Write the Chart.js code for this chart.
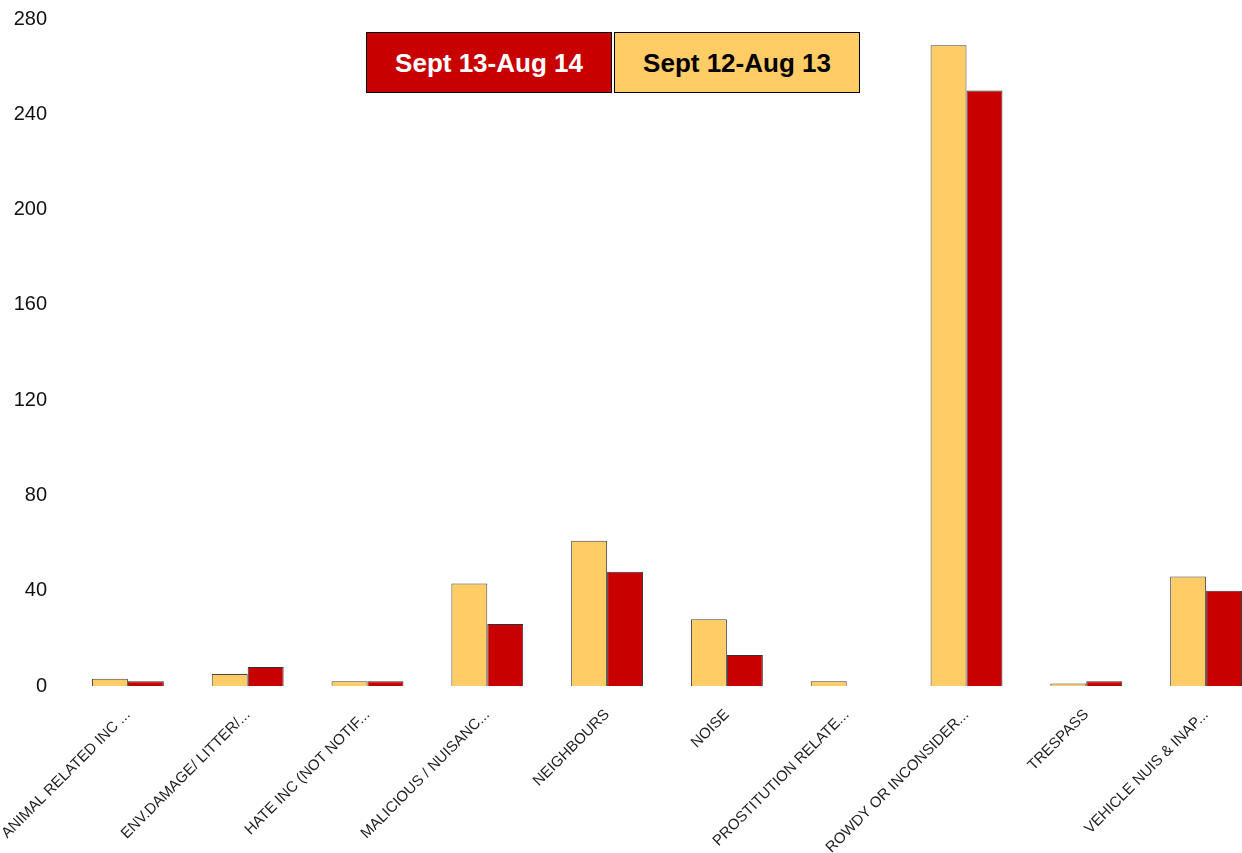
<!DOCTYPE html>
<html>
<head>
<meta charset="utf-8">
<script src="https://cdn.jsdelivr.net/npm/chart.js@4.4.0/dist/chart.umd.min.js"></script>
<style>
  html, body { margin: 0; padding: 0; background: #fff; overflow: hidden; width: 1242px; height: 853px; }
  #wrap { position: absolute; left: 0; top: -14px; width: 1266px; height: 867px; }
  .lg { position: absolute; top: 32px; width: 244px; border: 1px solid #000;
        font: bold 26px "Liberation Sans", Arial, sans-serif; display: flex; align-items: center; justify-content: center; padding-top: 2px; box-sizing: content-box; }
</style>
</head>
<body>
<div id="wrap"><canvas id="c" width="1266" height="867"></canvas></div>
<div id="lg1" class="lg" style="left:366px;background:#c80000;color:#fff;height:57px;"></div>
<div id="lg2" class="lg" style="left:614px;background:#ffcc66;color:#000;height:57px;"></div>
<script>
const categories = [
  "ANIMAL RELATED INC ...",
  "ENV.DAMAGE/ LITTER/...",
  "HATE INC (NOT NOTIF...",
  "MALICIOUS / NUISANC...",
  "NEIGHBOURS",
  "NOISE",
  "PROSTITUTION RELATE...",
  "ROWDY OR INCONSIDER...",
  "TRESPASS",
  "VEHICLE NUIS & INAP..."
];
const seriesNames = ["Sept 12-Aug 13", "Sept 13-Aug 14"];
const sept12Aug13 = [3, 5, 2, 43, 61, 28, 2, 269, 1, 46];
const sept13Aug14 = [2, 8, 2, 26, 48, 13, 0, 250, 2, 40];
const yTicks = [0, 40, 80, 120, 160, 200, 240, 280];

document.getElementById('lg1').textContent = seriesNames[1];
document.getElementById('lg2').textContent = seriesNames[0];

new Chart(document.getElementById('c'), {
  type: 'bar',
  data: {
    labels: categories,
    datasets: [
      { label: seriesNames[0], data: sept12Aug13, backgroundColor: '#ffcc66', borderColor: '#444', borderWidth: 1 },
      { label: seriesNames[1], data: sept13Aug14, backgroundColor: '#c80000', borderColor: '#333', borderWidth: 1 }
    ]
  },
  options: {
    responsive: false,
    animation: false,
    devicePixelRatio: 1,
    layout: { padding: { top: 4, left: 0, right: 0, bottom: 0 } },
    datasets: { bar: { barPercentage: 1.0, categoryPercentage: 0.6 } },
    plugins: { legend: { display: false }, tooltip: { enabled: false } },
    scales: {
      x: {
        grid: { display: false, drawTicks: false },
        border: { display: false },
        ticks: {
          autoSkip: false, minRotation: 45, maxRotation: 45, padding: 20,
          color: '#222', font: { family: '"Liberation Sans", Arial, sans-serif', size: 15 }
        },
        afterFit: s => { s.height = 167; s.paddingLeft = 0; s.paddingRight = 0; }
      },
      y: {
        min: 0, max: 280,
        afterBuildTicks: s => { s.ticks = yTicks.map(v => ({ value: v })); },
        grid: { display: false, drawTicks: false },
        border: { display: false },
        ticks: { padding: 21, color: '#111', font: { family: '"Liberation Sans", Arial, sans-serif', size: 20 } },
        afterFit: s => { s.width = 68; }
      }
    }
  }
});
</script>
</body>
</html>
